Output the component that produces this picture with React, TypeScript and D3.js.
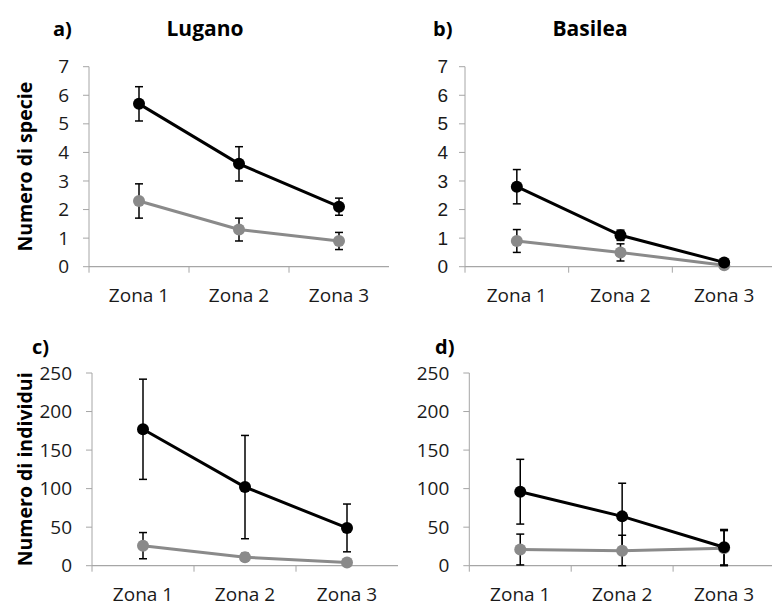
import React, { useRef, useEffect } from 'react';
import * as d3 from 'd3';

const zones = ['Zona 1', 'Zona 2', 'Zona 3'];

// numero di specie
const lugSpecieBlack = [5.7, 3.6, 2.1];
const lugSpecieBlackErr = [0.6, 0.6, 0.3];
const lugSpecieGray = [2.3, 1.3, 0.9];
const lugSpecieGrayErr = [0.6, 0.4, 0.3];
const basSpecieBlack = [2.8, 1.1, 0.15];
const basSpecieBlackErr = [0.6, 0.18, 0.05];
const basSpecieGray = [0.9, 0.5, 0.05];
const basSpecieGrayErr = [0.4, 0.3, 0.05];

// numero di individui
const lugIndBlack = [177, 102, 49];
const lugIndBlackErr = [65, 67, 31];
const lugIndGray = [26, 11, 4];
const lugIndGrayErr = [17, 5, 2];
const basIndBlack = [96, 64, 24];
const basIndBlackErr = [42, 43, 23];
const basIndGray = [21, 19.5, 22.5];
const basIndGrayErr = [20, 20, 23];

const specieTicks = [0, 1, 2, 3, 4, 5, 6, 7];
const indTicks = [0, 50, 100, 150, 200, 250];

const BLACK = '#000000';
const GRAY = '#8a8a8a';
const AXIS = '#a6a6a6';

const panels = [
  {
    letter: 'a)', title: 'Lugano', ylabel: 'Numero di specie',
    x0: 89, x1: 389, yTop: 66.7, yBot: 266.7, max: 7, ticks: specieTicks,
    tickFont: 'Open Sans', tickGap: 20,
    series: [
      { v: lugSpecieGray, e: lugSpecieGrayErr, c: GRAY },
      { v: lugSpecieBlack, e: lugSpecieBlackErr, c: BLACK },
    ],
    letterX: 53, titleX: 205, titleY: 36,
  },
  {
    letter: 'b)', title: 'Basilea', ylabel: null,
    x0: 465, x1: 776, yTop: 66.7, yBot: 266.7, max: 7, ticks: specieTicks,
    tickFont: 'Liberation Sans', tickGap: 17,
    series: [
      { v: basSpecieGray, e: basSpecieGrayErr, c: GRAY },
      { v: basSpecieBlack, e: basSpecieBlackErr, c: BLACK },
    ],
    letterX: 433, titleX: 590, titleY: 36,
  },
  {
    letter: 'c)', title: null, ylabel: 'Numero di individui',
    x0: 92, x1: 398, yTop: 373, yBot: 565.7, max: 250, ticks: indTicks,
    tickFont: 'Open Sans', tickGap: 20,
    series: [
      { v: lugIndGray, e: lugIndGrayErr, c: GRAY },
      { v: lugIndBlack, e: lugIndBlackErr, c: BLACK },
    ],
    letterX: 32, titleX: 0, titleY: 354,
  },
  {
    letter: 'd)', title: null, ylabel: null,
    x0: 469.3, x1: 775, yTop: 373, yBot: 565.7, max: 250, ticks: indTicks,
    tickFont: 'Open Sans', tickGap: 20,
    series: [
      { v: basIndGray, e: basIndGrayErr, c: GRAY },
      { v: basIndBlack, e: basIndBlackErr, c: BLACK },
    ],
    letterX: 435, titleX: 0, titleY: 354,
  },
];

const App = () => {
  const svgRef = useRef<SVGSVGElement>(null);

  useEffect(() => {
    const svg = d3.select(svgRef.current);
    svg.selectAll('*').remove();

    panels.forEach((p) => {
      const g = svg.append('g');
      const x = d3.scaleBand().domain(zones).range([p.x0, p.x1]).padding(0);
      const y = d3.scaleLinear().domain([0, p.max]).range([p.yBot, p.yTop]);
      const cx = (z: string) => (x(z) as number) + x.bandwidth() / 2;

      // y axis
      g.append('line')
        .attr('x1', p.x0).attr('x2', p.x0)
        .attr('y1', y(p.max)).attr('y2', y(0))
        .style('stroke', AXIS).style('stroke-width', 1);
      p.ticks.forEach((t) => {
        g.append('line')
          .attr('x1', p.x0 - 6).attr('x2', p.x0)
          .attr('y1', y(t)).attr('y2', y(t))
          .style('stroke', AXIS).style('stroke-width', 1);
        g.append('text')
          .text(t)
          .attr('x', p.x0 - p.tickGap)
          .attr('y', y(t))
          .attr('dy', '0.35em')
          .attr('text-anchor', 'end')
          .style('font-family', p.tickFont)
          .style('font-size', '19px')
          .style('fill', '#1a1a1a');
      });

      // x axis
      g.append('line')
        .attr('x1', p.x0).attr('x2', p.x1)
        .attr('y1', y(0)).attr('y2', y(0))
        .style('stroke', AXIS).style('stroke-width', 1.2);
      zones.forEach((z) => {
        g.append('line')
          .attr('x1', x(z)).attr('x2', x(z))
          .attr('y1', y(0)).attr('y2', y(0) + 6)
          .style('stroke', AXIS).style('stroke-width', 1);
        g.append('text')
          .text(z)
          .attr('x', cx(z))
          .attr('y', y(0) + 35)
          .attr('text-anchor', 'middle')
          .style('font-family', 'Open Sans')
          .style('font-size', '19px')
          .style('fill', '#1a1a1a');
      });

      // series
      const line = d3.line<number>()
        .x((_, i) => cx(zones[i]))
        .y((d) => y(d));

      p.series.forEach((s) => {
        g.append('path')
          .attr('d', line(s.v))
          .style('fill', 'none')
          .style('stroke', s.c)
          .style('stroke-width', 3);
      });

      p.series.forEach((s) => {
        s.v.forEach((d, i) => {
          const px = cx(zones[i]);
          const lo = y(Math.max(0, d - s.e[i]));
          const hi = y(d + s.e[i]);
          g.append('line')
            .attr('x1', px).attr('x2', px).attr('y1', lo).attr('y2', hi)
            .style('stroke', '#000').style('stroke-width', 1.5);
          [lo, hi].forEach((yy) => {
            g.append('line')
              .attr('x1', px - 4).attr('x2', px + 4).attr('y1', yy).attr('y2', yy)
              .style('stroke', '#000').style('stroke-width', 1.5);
          });
        });
      });

      p.series.forEach((s) => {
        s.v.forEach((d, i) => {
          g.append('circle')
            .attr('cx', cx(zones[i]))
            .attr('cy', y(d))
            .attr('r', 6)
            .style('fill', s.c);
        });
      });

      // titles
      g.append('text')
        .text(p.letter)
        .attr('x', p.letterX)
        .attr('y', p.titleY)
        .style('font-family', 'Open Sans')
        .style('font-weight', 'bold')
        .style('font-size', '20px');
      if (p.title) {
        g.append('text')
          .text(p.title)
          .attr('x', p.titleX)
          .attr('y', p.titleY)
          .attr('text-anchor', 'middle')
          .style('font-family', 'Open Sans')
          .style('font-weight', 'bold')
          .style('font-size', '21px');
      }
      if (p.ylabel) {
        const my = (p.yTop + p.yBot) / 2;
        g.append('text')
          .text(p.ylabel)
          .attr('transform', `translate(${25},${my}) rotate(-90)`)
          .attr('text-anchor', 'middle')
          .attr('dy', '0.35em')
          .style('font-family', 'Open Sans')
          .style('font-weight', 'bold')
          .style('font-size', '19.5px');
      }
    });
  }, []);

  return (
    <div>
      <svg ref={svgRef} width="772" height="606"
        style={{ position: 'absolute', left: 0, top: 0, background: '#fff' }}></svg>
    </div>
  );
};

export default App;
